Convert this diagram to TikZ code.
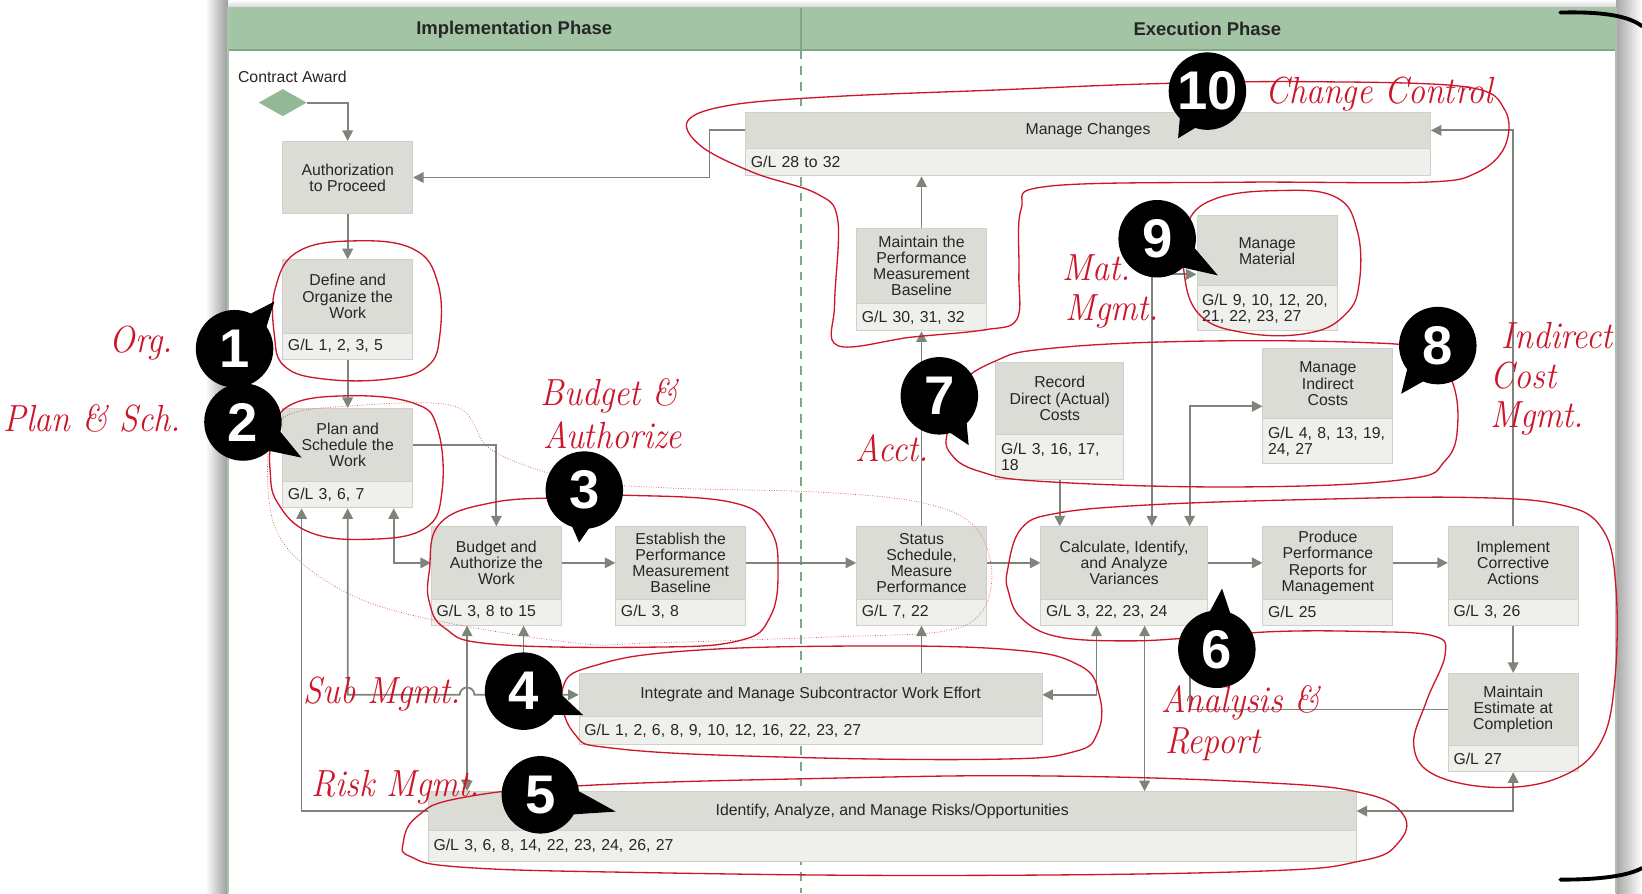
\documentclass[tikz,border=0pt]{standalone}
\usepackage{fontspec}
\setsansfont{Liberation Sans}
\usetikzlibrary{arrows.meta,shapes.geometric,calc}
\newlength\pxu
\setlength\pxu{0.020944cm}
\definecolor{hdr}{RGB}{163,196,165}
\definecolor{hdrline}{RGB}{128,168,133}
\definecolor{panelline}{RGB}{170,196,172}
\definecolor{boxtop}{RGB}{220,220,214}
\definecolor{boxgl}{RGB}{239,239,236}
\definecolor{boxedge}{RGB}{208,208,203}
\definecolor{arrc}{RGB}{125,132,122}
\definecolor{redink}{RGB}{205,22,42}
\definecolor{diag}{RGB}{147,184,150}
\definecolor{txt}{RGB}{38,38,38}
\newcommand\boxfont{\sffamily\fontsize{9}{9.2}\selectfont}
\tikzset{
  x=\pxu, y=-\pxu,
  topbox/.style={draw=boxedge, line width=0.5pt, fill=boxtop, align=center, inner sep=0pt, font=\boxfont, text=txt},
  glbox/.style={draw=boxedge, line width=0.5pt, fill=boxgl, align=left, inner ysep=0pt, inner xsep=5\pxu, font=\boxfont, text=txt},
  arr/.style={draw=arrc, line width=1pt, -{Triangle[length=6pt,width=6pt]}},
  arrtwo/.style={draw=arrc, line width=1pt, {Triangle[length=6pt,width=6pt]}-{Triangle[length=6pt,width=6pt]}},
  plainline/.style={draw=arrc, line width=1pt},
  redloop/.style={draw=redink, line width=0.75pt},
  hw/.style={text=redink, font=\rmfamily\itshape\fontsize{21.5}{21.5}\selectfont, inner sep=0pt, xscale=0.9},
  bubble/.style={circle, fill=black, minimum size=74\pxu, inner sep=0pt, text=white, font=\sffamily\bfseries\fontsize{31}{31}\selectfont},
  hdrtxt/.style={font=\sffamily\bfseries\fontsize{10.5}{12}\selectfont, text=txt}
}
\newcommand\gbox[8]{%
  \pgfmathsetlengthmacro\gbw{(#3-#2)*\pxu}%
  \pgfmathsetlengthmacro\gbh{(#5-#4)*\pxu}%
  \pgfmathsetlengthmacro\gbs{(#6-#5)*\pxu}%
  \pgfmathsetlengthmacro\gbt{(#3-#2-10)*\pxu}%
  \node[topbox, minimum width=\gbw, minimum height=\gbh] (#1) at ({(#2+#3)/2},{(#4+#5)/2}) {#7};
  \node[glbox, text width=\gbt, minimum height=\gbs] (#1gl) at ({(#2+#3)/2},{(#5+#6)/2}) {#8};
}
\newcommand\bubble[6]{%
  \coordinate (#1c) at (#2,#3);
  \coordinate (#1t) at (#4,#5);
  \fill[black] ($(#1c)!0.6cm!30:(#1t)$) -- (#1t) -- ($(#1c)!0.6cm!-30:(#1t)$) -- cycle;
  \node[bubble] (#1) at (#1c) {#6};
}
\begin{document}
\begin{tikzpicture}
\useasboundingbox (0,0) rectangle (1568,853);
\fill[white] (0,0) rectangle (1568,853);
% shadows
\shade[left color=white, right color=black!40] (196,0) rectangle (218,853);
\shade[left color=black!35, right color=white] (1543,0) rectangle (1568,853);
\shade[top color=white, bottom color=black!18] (218,0) rectangle (1543,8);
% panel
\fill[white] (218,8) rectangle (1543,853);
\fill[hdr] (218,8) rectangle (1543,48);
\draw[hdrline, line width=1pt] (218,48) -- (1543,48);
\draw[panelline, line width=1pt] (218,853) -- (218,8) -- (1543,8) -- (1543,853);
\draw[hdrline, line width=0.8pt] (765,8) -- (765,48);
\draw[hdrline, line width=0.8pt, dash pattern=on 5pt off 4pt] (765,48) -- (765,853);
\node[hdrtxt] (h1) at (491,28) {Implementation Phase};
\node[hdrtxt] (h2) at (1153,28) {Execution Phase};
\node[anchor=west, font=\boxfont, text=txt, inner sep=0pt] (catxt) at (227,73) {Contract Award};
\node[diamond, fill=diag, minimum width=46\pxu, minimum height=26\pxu, inner sep=0pt] (ca) at (270,98) {};
% boxes
\node[topbox, minimum width=124\pxu, minimum height=69\pxu] (auth) at (332,169.5) {Authorization\\to Proceed};
\gbox{define}{270}{394}{248}{318}{343}{Define and\\Organize the\\Work}{G/L 1, 2, 3, 5}
\gbox{plan}{270}{394}{390}{460}{485}{Plan and\\Schedule the\\Work}{G/L 3, 6, 7}
\gbox{budget}{412}{536}{503}{572}{597}{Budget and\\Authorize the\\Work}{G/L 3, 8 to 15}
\gbox{estab}{588}{712}{503}{572}{597}{Establish the\\Performance\\Measurement\\Baseline}{G/L 3, 8}
\gbox{status}{818}{942}{503}{572}{597}{Status\\Schedule,\\Measure\\Performance}{G/L 7, 22}
\gbox{calc}{994}{1153}{503}{572}{597}{Calculate, Identify,\\and Analyze\\Variances}{G/L 3, 22, 23, 24}
\gbox{produce}{1206}{1330}{503}{572}{597}{Produce\\Performance\\Reports for\\Management}{G/L 25}
\gbox{impl}{1383}{1507}{503}{572}{597}{Implement\\Corrective\\Actions}{G/L 3, 26}
\gbox{eac}{1383}{1507}{643}{712}{737}{Maintain\\Estimate at\\Completion}{G/L 27}
\gbox{subc}{553}{995}{643}{684}{711}{Integrate and Manage Subcontractor Work Effort}{G/L 1, 2, 6, 8, 9, 10, 12, 16, 22, 23, 27}
\gbox{risk}{409}{1295}{756}{793}{823}{Identify, Analyze, and Manage Risks/Opportunities}{G/L 3, 6, 8, 14, 22, 23, 24, 26, 27}
\gbox{chg}{712}{1366}{107}{142}{168}{Manage Changes}{G/L 28 to 32}
\gbox{pmb}{818}{942}{218}{290}{316}{Maintain the\\Performance\\Measurement\\Baseline}{G/L 30, 31, 32}
\gbox{mat}{1143}{1277}{206}{273}{316}{Manage\\Material}{G/L 9, 10, 12, 20,\\21, 22, 23, 27}
\gbox{rec}{951}{1073}{346}{415}{458}{Record\\Direct (Actual)\\Costs}{G/L 3, 16, 17,\\18}
\gbox{ind}{1206}{1330}{333}{400}{443}{Manage\\Indirect\\Costs}{G/L 4, 8, 13, 19,\\24, 27}
% connectors
\draw[arr] (ca.east) -| (auth.north);
\draw[arr] (auth.south) -- (define.north);
\draw[arr] (definegl.south) -- (plan.north);
\draw[arr] (plan.east) -| (budget.north);
\draw[arr] (budget.east) -- (estab.west);
\draw[arr] (estab.east) -- (status.west);
\draw[arr] (status.east) -- (calc.west);
\draw[arr] (calc.east) -- (produce.west);
\draw[arr] (produce.east) -- (impl.west);
\draw[arr] (implgl.south) -- (eac.north);
\draw[arr] (impl.north) |- (chg.east);
\draw[arr] (chg.west) -- ++(-34,0) |- (auth.east);
\draw[arr] (status.north) -- (pmbgl.south);
\draw[arr] (pmb.north) -- (pmb.north |- chggl.south);
\draw[arr] (recgl.south) -- (recgl.south |- calc.north);
\coordinate (jmat) at (1100,262);
\draw[arrtwo] (jmat -| mat.west) -- (jmat) -- (jmat |- calc.north);
\coordinate (jind) at (1136,388);
\draw[arrtwo] (jind -| ind.west) -- (jind) -- (jind |- calc.north);
\coordinate (jsub) at (1047,0);
\draw[arrtwo] (subc.east) -- (jsub |- subc.east) -- (jsub |- calcgl.south);
\draw[arr] (subc.north -| status.south) -- (statusgl.south);
\coordinate (jrisk) at (1093,0);
\draw[arrtwo] (jrisk |- risk.north) -- (jrisk |- calcgl.south);
\draw[arrtwo] (risk.east) -- (eacgl.south |- risk.east) -- (eacgl.south);
\coordinate (jeac) at (1136,625);
\draw[plainline] (eac.west) -- (jeac |- eac.west) -- (jeac);
\coordinate (jpa) at (288,0);
\coordinate (jpc) at (376,0);
\draw[arr] (risk.west) -- (jpa |- risk.west) -- (jpa |- plangl.south);
\coordinate (jbb) at (446,0);
\coordinate (jba) at (500,0);
\draw[arrtwo] (subc.west) -- ($(jbb |- subc.west)+(7,0)$) arc[start angle=0, end angle=-180, radius=7] -- (plangl.south |- subc.west) -- (plangl.south);
\draw[arrtwo] (jpc |- plangl.south) -- (jpc |- budget.west) -- (budget.west);
\draw[arr] (jba |- subc.west) -- (jba |- budgetgl.south);
\draw[arrtwo] (jbb |- budgetgl.south) -- (jbb |- risk.north);
% red loops
\draw[redloop] plot[smooth cycle, tension=0.7] coordinates {(263,275) (285,240) (340,230) (395,238) (418,270) (420,320) (408,350) (370,362) (310,362) (272,350) (262,320)};
\draw[redloop] plot[smooth cycle, tension=0.7] coordinates {(260,420) (275,388) (330,378) (395,385) (418,410) (422,470) (405,505) (350,515) (295,508) (265,480) (258,450)};
\draw[redink!80, line width=0.4pt, densely dotted] plot[smooth cycle, tension=0.6] coordinates {(256,432) (272,398) (330,388) (434,388) (470,430) (549,458) (640,466) (783,470) (880,480) (930,502) (947,545) (937,585) (900,603) (800,608) (620,614) (549,614) (400,589) (320,560) (265,509)};
\draw[redloop] plot[smooth cycle, tension=0.7] coordinates {(410,545) (420,500) (470,480) (540,475) (600,473) (700,480) (735,505) (743,545) (735,590) (705,612) (620,618) (470,615) (425,600) (410,575)};
\draw[redloop] plot[smooth cycle, tension=0.7] coordinates {(538,655) (570,635) (650,622) (800,617) (960,620) (1030,635) (1050,665) (1048,700) (1025,718) (950,725) (750,723) (590,715) (548,700)};
\draw[redloop] plot[smooth cycle, tension=0.7] coordinates {(385,805) (398,780) (440,762) (560,750) (800,743) (1000,741) (1200,747) (1300,757) (1340,778) (1335,805) (1300,822) (1200,832) (900,836) (600,833) (440,828) (392,818)};
\draw[redloop] plot[smooth cycle, tension=0.65] coordinates {(962,545) (975,505) (1010,490) (1100,482) (1250,477) (1400,475) (1490,482) (1530,505) (1543,560) (1542,650) (1528,710) (1490,742) (1430,752) (1370,740) (1350,712) (1362,670) (1380,625) (1368,607) (1300,603) (1220,603) (1150,608) (1080,612) (1010,608) (975,590) (963,565)};
\draw[redloop] plot[smooth cycle, tension=0.7] coordinates {(905,410) (915,370) (950,345) (1000,333) (1133,326) (1300,327) (1360,335) (1385,360) (1392,405) (1380,440) (1340,458) (1183,465) (1000,460) (935,450) (907,432)};
\draw[redloop] plot[smooth cycle, tension=0.7] coordinates {(1130,255) (1133,215) (1160,190) (1220,182) (1275,188) (1296,220) (1298,270) (1285,300) (1250,318) (1190,318) (1145,300)};
\draw[redloop] plot[smooth cycle, tension=0.6] coordinates {(657,115) (700,100) (800,92) (950,86) (1100,80) (1250,78) (1400,83) (1437,105) (1437,140) (1410,165) (1360,174) (1183,174) (1000,178) (975,200) (973,260) (971,305) (940,315) (870,322) (800,330) (797,290) (800,210) (780,185) (720,165) (670,140)};
% bubbles
\bubble{bub1}{224}{333}{262}{288}{1}
\bubble{bub2}{232}{403}{288}{437}{2}
\bubble{bub3}{558}{468}{553}{518}{3}
\bubble{bub4}{500}{660}{557}{683}{4}
\bubble{bub5}{516}{759}{588}{775}{5}
\bubble{bub6}{1162}{620}{1167}{562}{6}
\bubble{bub7}{897}{378}{925}{425}{7}
\bubble{bub8}{1373}{330}{1338}{376}{8}
\bubble{bub9}{1105}{228}{1163}{263}{9}
\bubble{bub10}{1153}{87}{1125}{132}{10}
% handwritten labels
\node[hw] (lorg) at (135,328) {Org.};
\node[hw] (lplan) at (88,400) {Plan \& Sch.};
\node[hw] (lbud1) at (582,378) {Budget \&};
\node[hw] (lbud2) at (585,416) {Authorize};
\node[hw] (lsub) at (365,663) {Sub Mgmt.};
\node[hw] (lrisk) at (378,752) {Risk Mgmt.};
\node[hw] (lacct) at (852,428) {Acct.};
\node[hw] (lmat1) at (1047,256) {Mat.};
\node[hw] (lmat2) at (1062,297) {Mgmt.};
\node[hw] (lind1) at (1487,320) {Indirect};
\node[hw] (lind2) at (1455,359) {Cost};
\node[hw] (lind3) at (1468,400) {Mgmt.};
\node[hw] (lana1) at (1185,671) {Analysis \&};
\node[hw] (lana2) at (1158,711) {Report};
\node[hw] (lchg) at (1317,90) {Change Control};
% brackets
\draw[black, line width=2.2pt, line cap=round] (1490,12) .. controls (1530,11) and (1555,15) .. (1568,25);
\draw[black, line width=2.2pt, line cap=round] (1490,840) .. controls (1530,840) and (1555,836) .. (1568,829);
\end{tikzpicture}
\end{document}
